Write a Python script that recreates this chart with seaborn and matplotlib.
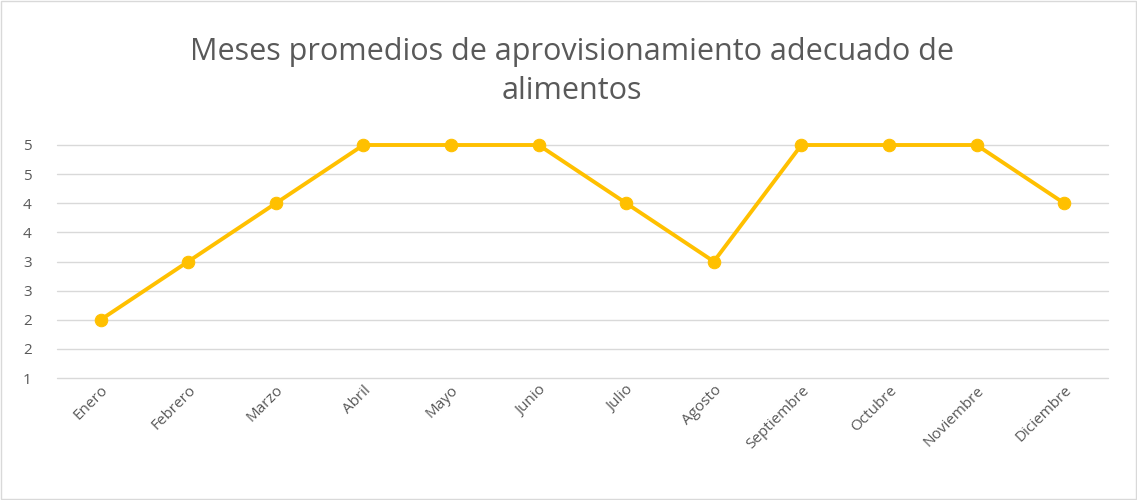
import matplotlib
matplotlib.use('Agg')
import matplotlib.pyplot as plt
import seaborn as sns
import pandas as pd
from matplotlib.patches import Rectangle

# datos del grafico
meses = ['Enero', 'Febrero', 'Marzo', 'Abril', 'Mayo', 'Junio', 'Julio',
         'Agosto', 'Septiembre', 'Octubre', 'Noviembre', 'Diciembre']
valores = [2, 3, 4, 5, 5, 5, 4, 3, 5, 5, 5, 4]
ticks_y = [1, 1.5, 2, 2.5, 3, 3.5, 4, 4.5, 5]
etiquetas_y = ['1', '2', '2', '3', '3', '4', '4', '5', '5']

df = pd.DataFrame({'mes': meses, 'valor': valores})

sns.set_style('white')
plt.rcParams['font.family'] = ['Open Sans', 'DejaVu Sans']

fig = plt.figure(figsize=(11.37, 5), dpi=100)
ax = fig.add_axes([0.050, 0.244, 0.9245, 0.466])

sns.lineplot(data=df, x='mes', y='valor', ax=ax, color='#FFC000', linewidth=2.8,
             marker='o', markersize=9, markeredgecolor='#FFC000', sort=False)
for ln in ax.lines:
    ln.set_clip_on(False)
    ln.set_zorder(5)

ax.set_xlim(-0.5, len(meses) - 0.5)
ax.set_ylim(1, 5)
ax.set_yticks(ticks_y)
ax.set_yticklabels(etiquetas_y)
ax.grid(axis='y', color='#D9D9D9', linewidth=1)
for g in ax.get_ygridlines():
    g.set_clip_on(False)
ax.set_axisbelow(True)
for s in ax.spines.values():
    s.set_visible(False)
ax.set_xlabel('')
ax.set_ylabel('')
ax.tick_params(axis='both', length=0, colors='#595959', labelsize=11)
ax.tick_params(axis='y', pad=18)
plt.setp(ax.get_xticklabels(), rotation=45, ha='right', rotation_mode='anchor')

fig.text(0.503, 0.857, 'Meses promedios de aprovisionamiento adecuado de\nalimentos',
         ha='center', va='center', fontsize=22, color='#595959', linespacing=1.35)

# borde del grafico
fig.patches.append(Rectangle((0.001, 0.002), 0.998, 0.996, transform=fig.transFigure,
                             fill=False, edgecolor='#D9D9D9', linewidth=1))

fig.savefig('out.png', dpi=100)
